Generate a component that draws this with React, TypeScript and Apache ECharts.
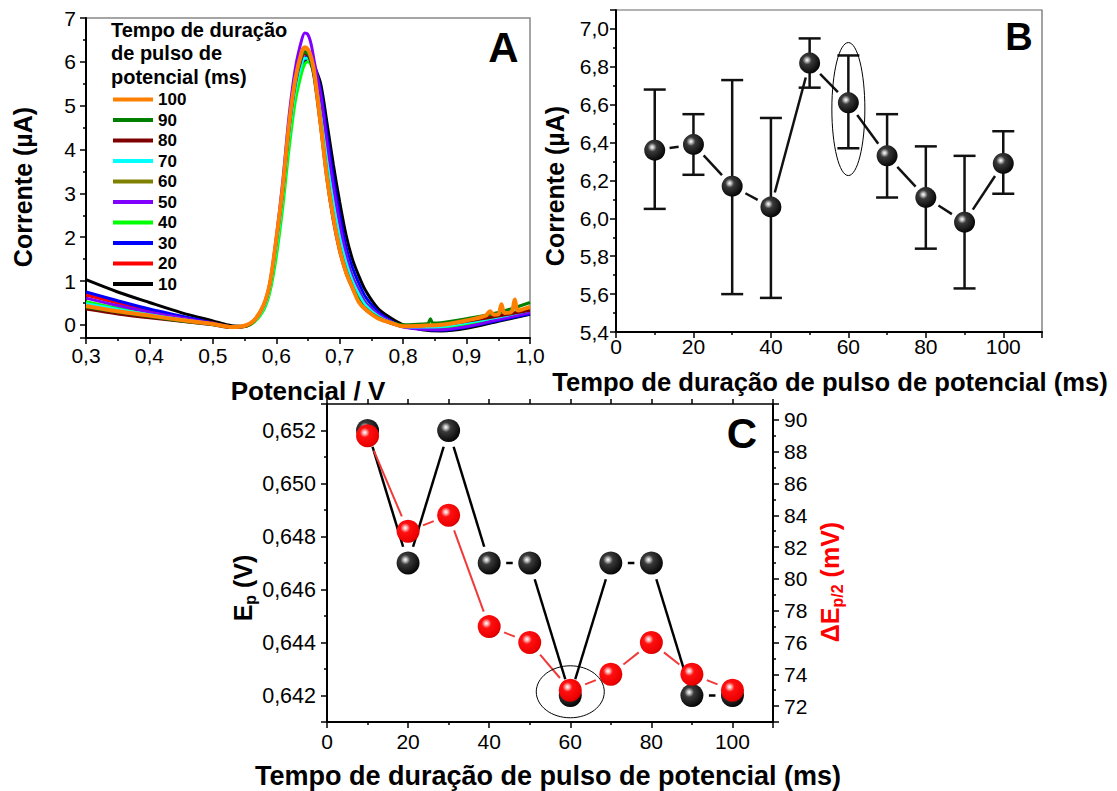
import React, { useEffect, useRef } from 'react';
import * as echarts from 'echarts';

const FONT = '"Liberation Sans", Arial, sans-serif';

// ---------- Panel A: DPV curves ----------
const potentials = [0.30, 0.35, 0.40, 0.45, 0.50, 0.53, 0.55, 0.565, 0.58, 0.59, 0.60, 0.61, 0.62, 0.63, 0.64, 0.645, 0.65, 0.655, 0.66, 0.67, 0.68, 0.69, 0.70, 0.71, 0.72, 0.73, 0.74, 0.76, 0.78, 0.80, 0.83, 0.86, 0.90, 0.95, 1.00];

const curve10 = [1.03, 0.75, 0.51, 0.28, 0.09, -0.02, -0.03, 0.07, 0.38, 0.83, 1.75, 2.85, 4.2, 5.25, 5.85, 6.02, 6.08, 6.05, 5.9, 5.5, 4.6, 3.65, 2.8, 2.05, 1.5, 1.12, 0.8, 0.38, 0.16, 0.0, -0.11, -0.14, -0.08, 0.08, 0.24];
const curve20 = [0.68, 0.50, 0.33, 0.18, 0.04, -0.04, -0.03, 0.09, 0.42, 0.9, 1.85, 3.0, 4.45, 5.5, 6.08, 6.18, 6.17, 6.02, 5.72, 4.82, 3.75, 2.8, 2.02, 1.45, 1.02, 0.72, 0.48, 0.21, 0.05, -0.04, -0.08, -0.08, 0.0, 0.14, 0.28];
const curve30 = [0.75, 0.55, 0.36, 0.20, 0.04, -0.04, -0.03, 0.09, 0.42, 0.9, 1.85, 3.0, 4.4, 5.45, 5.95, 6.08, 6.15, 6.10, 5.92, 5.35, 4.35, 3.36, 2.5, 1.78, 1.3, 0.95, 0.65, 0.3, 0.1, -0.03, -0.10, -0.12, -0.05, 0.10, 0.25];
const curve40 = [0.53, 0.38, 0.25, 0.13, 0.02, -0.05, -0.04, 0.06, 0.33, 0.75, 1.55, 2.65, 4.0, 5.1, 5.75, 5.95, 6.0, 5.92, 5.7, 4.95, 4.0, 3.05, 2.2, 1.58, 1.12, 0.8, 0.53, 0.24, 0.07, -0.02, -0.06, -0.06, 0.02, 0.16, 0.32];
const curve50 = [0.61, 0.44, 0.29, 0.16, 0.03, -0.05, -0.03, 0.1, 0.45, 0.97, 2.0, 3.25, 4.75, 5.85, 6.5, 6.66, 6.62, 6.4, 6.0, 5.25, 4.15, 3.15, 2.3, 1.6, 1.1, 0.8, 0.52, 0.25, 0.07, -0.05, -0.10, -0.11, -0.04, 0.12, 0.28];
const curve60 = [0.45, 0.33, 0.22, 0.11, 0.02, -0.05, -0.03, 0.1, 0.44, 0.93, 1.92, 3.05, 4.5, 5.55, 6.15, 6.25, 6.2, 6.03, 5.7, 4.65, 3.5, 2.52, 1.8, 1.28, 0.9, 0.6, 0.39, 0.17, 0.05, -0.02, -0.03, -0.01, 0.08, 0.22, 0.36];
const curve70 = [0.48, 0.35, 0.23, 0.12, 0.02, -0.05, -0.03, 0.08, 0.38, 0.85, 1.75, 2.9, 4.3, 5.35, 5.95, 6.08, 6.08, 5.95, 5.65, 4.75, 3.7, 2.75, 1.98, 1.42, 1.0, 0.7, 0.46, 0.2, 0.05, -0.03, -0.05, -0.04, 0.05, 0.18, 0.33];
const curve80 = [0.36, 0.25, 0.16, 0.08, 0.0, -0.06, -0.04, 0.09, 0.43, 0.92, 1.9, 3.02, 4.45, 5.5, 6.1, 6.2, 6.15, 5.97, 5.62, 4.5, 3.3, 2.37, 1.67, 1.18, 0.83, 0.54, 0.35, 0.15, 0.04, -0.03, -0.02, 0.0, 0.08, 0.2, 0.33];
const curve90 = [0.40, 0.29, 0.19, 0.09, 0.01, -0.05, -0.03, 0.1, 0.44, 0.93, 1.92, 3.05, 4.5, 5.55, 6.13, 6.22, 6.18, 6.0, 5.68, 4.62, 3.45, 2.48, 1.77, 1.25, 0.88, 0.58, 0.38, 0.17, 0.05, 0.0, 0.02, 0.05, 0.14, 0.28, 0.51];
const curve100 = [0.43, 0.31, 0.21, 0.11, 0.02, -0.05, -0.02, 0.10, 0.45, 0.95, 1.95, 3.10, 4.55, 5.60, 6.22, 6.33, 6.28, 6.10, 5.75, 4.58, 3.36, 2.45, 1.72, 1.20, 0.85, 0.52, 0.36, 0.15, 0.05, -0.03, -0.02, 0.0, 0.10, 0.24, 0.41];
// small spikes seen on two curves
const spikes90 = [[0.839, 0.03], [0.843, 0.14], [0.847, 0.04]];
const spikes100 = [[0.930, 0.21], [0.937, 0.31], [0.943, 0.23], [0.955, 0.47], [0.960, 0.27], [0.971, 0.30], [0.976, 0.58], [0.981, 0.33]];

const curveNames = ['10', '20', '30', '40', '50', '60', '70', '80', '90', '100'];
const curveColors = ['#000000', '#ff0000', '#0000ff', '#00ff00', '#8000ff', '#808000', '#00ffff', '#7f0000', '#007f00', '#ff8000'];
const curveValues = [curve10, curve20, curve30, curve40, curve50, curve60, curve70, curve80, curve90, curve100];
const curveExtras = [[], [], [], [], [], [], [], [], spikes90, spikes100];

// ---------- Panel B ----------
const pulseTimes = [10, 20, 30, 40, 50, 60, 70, 80, 90, 100];
const currentMean = [6.36, 6.39, 6.17, 6.06, 6.82, 6.61, 6.33, 6.11, 5.98, 6.29];
const currentHigh = [6.68, 6.55, 6.73, 6.53, 6.95, 6.86, 6.55, 6.38, 6.33, 6.46];
const currentLow = [6.05, 6.23, 5.60, 5.58, 6.69, 6.37, 6.11, 5.84, 5.63, 6.13];
const highlightB = [60, 6.577];

// ---------- Panel C ----------
const peakPotential = [0.652, 0.647, 0.652, 0.647, 0.647, 0.642, 0.647, 0.647, 0.642, 0.642];
const halfPeakWidth = [89, 83, 84, 77, 76, 73, 74, 76, 74, 73];
const highlightC = [60, 0.64214];

const blackBall = {
  type: 'radial', x: 0.38, y: 0.36, r: 0.7,
  colorStops: [
    { offset: 0, color: '#ffffff' },
    { offset: 0.1, color: '#c8c8c8' },
    { offset: 0.3, color: '#3a3a3a' },
    { offset: 1, color: '#000000' },
  ],
};
const redBall = {
  type: 'radial', x: 0.38, y: 0.36, r: 0.7,
  colorStops: [
    { offset: 0, color: '#ffffff' },
    { offset: 0.1, color: '#ffc0c0' },
    { offset: 0.3, color: '#ff1010' },
    { offset: 0.85, color: '#ec0000' },
    { offset: 1, color: '#b80000' },
  ],
};

function buildCurve(vals: number[], extras: number[][]) {
  const pts = potentials.map((x, i) => [x, vals[i]]);
  return pts.concat(extras).sort((a, b) => a[0] - b[0]);
}

function pairs(xs: number[], ys: number[]) {
  return xs.slice(0, -1).map((x, i) => [x, ys[i], xs[i + 1], ys[i + 1]]);
}

function gapSegments(gap: number, color: string, width: number) {
  return (params: any, api: any) => {
    const p1 = api.coord([api.value(0), api.value(1)]);
    const p2 = api.coord([api.value(2), api.value(3)]);
    const dx = p2[0] - p1[0];
    const dy = p2[1] - p1[1];
    const len = Math.hypot(dx, dy);
    if (len <= 2 * gap + 1) return { type: 'group', children: [] };
    const ux = dx / len;
    const uy = dy / len;
    return {
      type: 'line',
      shape: { x1: p1[0] + ux * gap, y1: p1[1] + uy * gap, x2: p2[0] - ux * gap, y2: p2[1] - uy * gap },
      style: { stroke: color, lineWidth: width },
    };
  };
}

function ellipseRender(rx: number, ry: number) {
  return (params: any, api: any) => {
    const c = api.coord([api.value(0), api.value(1)]);
    return {
      type: 'ellipse',
      shape: { cx: c[0], cy: c[1], rx, ry },
      style: { fill: 'none', stroke: '#000', lineWidth: 1 },
    };
  };
}

const tickStyle = { color: '#000', width: 1.5 };
const lineStyle = { color: '#000', width: 2 };

function valueAxis(extra: any) {
  return {
    type: 'value',
    axisLine: { show: true, onZero: false, lineStyle },
    axisTick: { show: true, inside: false, length: 6, lineStyle: tickStyle },
    minorTick: { show: true, splitNumber: 2, length: 3, lineStyle: tickStyle },
    splitLine: { show: false },
    minorSplitLine: { show: false },
    ...extra,
    axisLabel: { fontSize: 20, color: '#000', fontFamily: FONT, ...(extra.axisLabel || {}) },
  };
}

export default function App() {
  const ref = useRef<HTMLDivElement>(null);

  useEffect(() => {
    if (!ref.current) return;
    const chart = echarts.init(ref.current, null, { renderer: 'svg' });

    const lineSeries: any[] = curveNames.map((name, i) => ({
      name,
      type: 'line',
      xAxisIndex: 0,
      yAxisIndex: 0,
      data: buildCurve(curveValues[i], curveExtras[i]),
      showSymbol: false,
      symbol: 'none',
      smooth: 0.3,
      color: curveColors[i],
      lineStyle: { width: name === '100' ? 4 : 3, color: curveColors[i] },
      z: 2 + i,
    }));

    const option: any = {
      animation: false,
      backgroundColor: '#ffffff',
      grid: [
        { left: 86, top: 18, width: 444, height: 320, show: true, borderColor: '#888', borderWidth: 1.5, backgroundColor: 'transparent' },
        { left: 616, top: 10, width: 426, height: 322, show: true, borderColor: '#666', borderWidth: 1.2, backgroundColor: 'transparent' },
        { left: 327, top: 404, width: 446, height: 318 },
      ],
      legend: {
        left: 113, top: 91, orient: 'vertical', padding: 0,
        itemWidth: 40, itemHeight: 4, itemGap: 3.5, icon: 'rect',
        selectedMode: false,
        data: ['100', '90', '80', '70', '60', '50', '40', '30', '20', '10'],
        textStyle: { fontSize: 17, fontWeight: 'bold', fontFamily: FONT, color: '#000' },
      },
      xAxis: [
        valueAxis({ gridIndex: 0, min: 0.3, max: 1.0, splitNumber: 7,
          axisLabel: { margin: 7, fontSize: 21, formatter: (v: number) => v.toFixed(1).replace('.', ',') } }),
        valueAxis({ gridIndex: 1, min: 0, max: 110, splitNumber: 5,
          axisLabel: { margin: 4, fontSize: 21, formatter: (v: number) => (v > 105 ? '' : String(Math.round(v))) } }),
        valueAxis({ gridIndex: 2, min: 0, max: 110, splitNumber: 5,
          axisLabel: { margin: 9, fontSize: 21, formatter: (v: number) => (v > 105 ? '' : String(Math.round(v))) } }),
        valueAxis({ gridIndex: 2, min: 0, max: 110, splitNumber: 11, position: 'top',
          axisTick: { show: true, inside: false, length: 5, lineStyle: tickStyle },
          minorTick: { show: false },
          axisLine: { show: true, onZero: false, lineStyle: { color: '#000', width: 1.5 } },
          axisLabel: { show: false } }),
      ],
      yAxis: [
        valueAxis({ gridIndex: 0, min: -0.3, max: 7, splitNumber: 7,
          axisLabel: { margin: 10, fontSize: 21, showMinLabel: false, formatter: (v: number) => (v < -0.01 ? '' : String(Math.round(v))) } }),
        valueAxis({ gridIndex: 1, min: 5.4, max: 7.1, splitNumber: 8,
          axisLabel: { margin: 7, fontSize: 21, formatter: (v: number) => (v > 7.05 ? '' : v.toFixed(1).replace('.', ',')) } }),
        valueAxis({ gridIndex: 2, min: 0.641, max: 0.653, splitNumber: 6,
          axisLabel: { margin: 11, fontSize: 21.5, formatter: (v: number) => {
            const k = Math.round(v * 1000);
            if (k % 2 !== 0 || k < 642 || k > 652) return '';
            return (k / 1000).toFixed(3).replace('.', ',');
          } } }),
        valueAxis({ gridIndex: 2, min: 71, max: 91, splitNumber: 10, position: 'right',
          axisLabel: { margin: 11, fontSize: 21, formatter: (v: number) => {
            const k = Math.round(v);
            if (k % 2 !== 0 || k < 72 || k > 90) return '';
            return String(k);
          } } }),
      ],
      series: [
        ...lineSeries,
        // Panel B
        {
          type: 'custom', xAxisIndex: 1, yAxisIndex: 1, z: 3, silent: true,
          data: pulseTimes.map((t, i) => [t, currentLow[i], currentHigh[i]]),
          encode: { x: 0, y: [1, 2] },
          renderItem: (params: any, api: any) => {
            const x = api.value(0);
            const lo = api.coord([x, api.value(1)]);
            const hi = api.coord([x, api.value(2)]);
            const w = 11;
            const st = { stroke: '#111', lineWidth: 2.5 };
            return {
              type: 'group',
              children: [
                { type: 'line', shape: { x1: lo[0], y1: lo[1], x2: hi[0], y2: hi[1] }, style: st },
                { type: 'line', shape: { x1: lo[0] - w, y1: lo[1], x2: lo[0] + w, y2: lo[1] }, style: st },
                { type: 'line', shape: { x1: hi[0] - w, y1: hi[1], x2: hi[0] + w, y2: hi[1] }, style: st },
              ],
            };
          },
        },
        {
          type: 'custom', xAxisIndex: 1, yAxisIndex: 1, z: 4, silent: true,
          data: pairs(pulseTimes, currentMean),
          encode: { x: [0, 2], y: [1, 3] },
          renderItem: gapSegments(15, '#111', 2.5),
        },
        {
          type: 'scatter', xAxisIndex: 1, yAxisIndex: 1, z: 5, silent: true,
          symbolSize: 21,
          data: pulseTimes.map((t, i) => [t, currentMean[i]]),
          itemStyle: { color: blackBall, opacity: 1 },
        },
        {
          type: 'custom', xAxisIndex: 1, yAxisIndex: 1, z: 6, silent: true,
          data: [highlightB],
          renderItem: ellipseRender(16.5, 66.5),
        },
        // Panel C
        {
          type: 'custom', xAxisIndex: 2, yAxisIndex: 2, z: 3, silent: true,
          data: pairs(pulseTimes, peakPotential),
          encode: { x: [0, 2], y: [1, 3] },
          renderItem: gapSegments(17, '#000', 2.5),
        },
        {
          type: 'custom', xAxisIndex: 2, yAxisIndex: 3, z: 3, silent: true,
          data: pairs(pulseTimes, halfPeakWidth),
          encode: { x: [0, 2], y: [1, 3] },
          renderItem: gapSegments(16, '#f03a3a', 2),
        },
        {
          type: 'scatter', xAxisIndex: 2, yAxisIndex: 2, z: 5, silent: true,
          symbolSize: 23,
          data: pulseTimes.map((t, i) => [t, peakPotential[i]]),
          itemStyle: { color: blackBall, opacity: 1 },
        },
        {
          type: 'scatter', xAxisIndex: 2, yAxisIndex: 3, z: 6, silent: true,
          symbolSize: 23,
          data: pulseTimes.map((t, i) => [t, halfPeakWidth[i]]),
          itemStyle: { color: redBall, opacity: 1 },
        },
        {
          type: 'custom', xAxisIndex: 2, yAxisIndex: 2, z: 7, silent: true,
          data: [highlightC],
          renderItem: ellipseRender(34, 26),
        },
      ],
      graphic: [
        { type: 'text', x: 111, y: 18, silent: true,
          style: { text: 'Tempo de duração\nde pulso de\npotencial (ms)', fontSize: 20, fontWeight: 'bold', fontFamily: FONT, fill: '#000', lineHeight: 23.5, align: 'left', verticalAlign: 'top' } },
        { type: 'text', x: 503.5, y: 47, silent: true,
          style: { text: 'A', fontSize: 42, fontWeight: 'bold', fontFamily: FONT, fill: '#000', align: 'center', verticalAlign: 'middle' } },
        { type: 'text', x: 1019, y: 37, silent: true,
          style: { text: 'B', fontSize: 38, fontWeight: 'bold', fontFamily: FONT, fill: '#000', align: 'center', verticalAlign: 'middle' } },
        { type: 'text', x: 742, y: 433, silent: true,
          style: { text: 'C', fontSize: 42, fontWeight: 'bold', fontFamily: FONT, fill: '#000', align: 'center', verticalAlign: 'middle' } },
        { type: 'text', x: 23, y: 187, rotation: Math.PI / 2, silent: true,
          style: { text: 'Corrente (µA)', fontSize: 25, fontWeight: 'bold', fontFamily: FONT, fill: '#000', align: 'center', verticalAlign: 'middle' } },
        { type: 'text', x: 308, y: 391, silent: true,
          style: { text: 'Potencial / V', fontSize: 26, fontWeight: 'bold', fontFamily: FONT, fill: '#000', align: 'center', verticalAlign: 'middle' } },
        { type: 'text', x: 555, y: 186, rotation: Math.PI / 2, silent: true,
          style: { text: 'Corrente (µA)', fontSize: 25, fontWeight: 'bold', fontFamily: FONT, fill: '#000', align: 'center', verticalAlign: 'middle' } },
        { type: 'text', x: 830, y: 382, silent: true,
          style: { text: 'Tempo de duração de pulso de potencial (ms)', fontSize: 25.6, fontWeight: 'bold', fontFamily: FONT, fill: '#000', align: 'center', verticalAlign: 'middle' } },
        { type: 'text', x: 548, y: 776, silent: true,
          style: { text: 'Tempo de duração de pulso de potencial (ms)', fontSize: 27, fontWeight: 'bold', fontFamily: FONT, fill: '#000', align: 'center', verticalAlign: 'middle' } },
        { type: 'text', x: 243, y: 588, rotation: Math.PI / 2, silent: true,
          style: {
            text: '{e|E}{s|p}{e| (V)}', align: 'center', verticalAlign: 'middle',
            rich: {
              e: { fontSize: 25, fontWeight: 'bold', fontFamily: FONT, fill: '#000', color: '#000', lineHeight: 30 },
              s: { fontSize: 16, fontWeight: 'bold', fontFamily: FONT, fill: '#000', color: '#000', lineHeight: 14, verticalAlign: 'bottom' },
            },
          } },
        { type: 'text', x: 830, y: 582, rotation: Math.PI / 2, silent: true,
          style: {
            text: '{e|ΔE}{s|p/2}{e| (mV)}', align: 'center', verticalAlign: 'middle',
            rich: {
              e: { fontSize: 25, fontWeight: 'bold', fontFamily: FONT, fill: '#ff0000', color: '#ff0000', lineHeight: 30 },
              s: { fontSize: 16, fontWeight: 'bold', fontFamily: FONT, fill: '#ff0000', color: '#ff0000', lineHeight: 14, verticalAlign: 'bottom' },
            },
          } },
      ],
    };

    chart.setOption(option);
    return () => chart.dispose();
  }, []);

  return (
    <div
      ref={ref}
      style={{ position: 'absolute', left: 0, top: 0, width: 1117, height: 791, background: '#fff' }}
    />
  );
}
